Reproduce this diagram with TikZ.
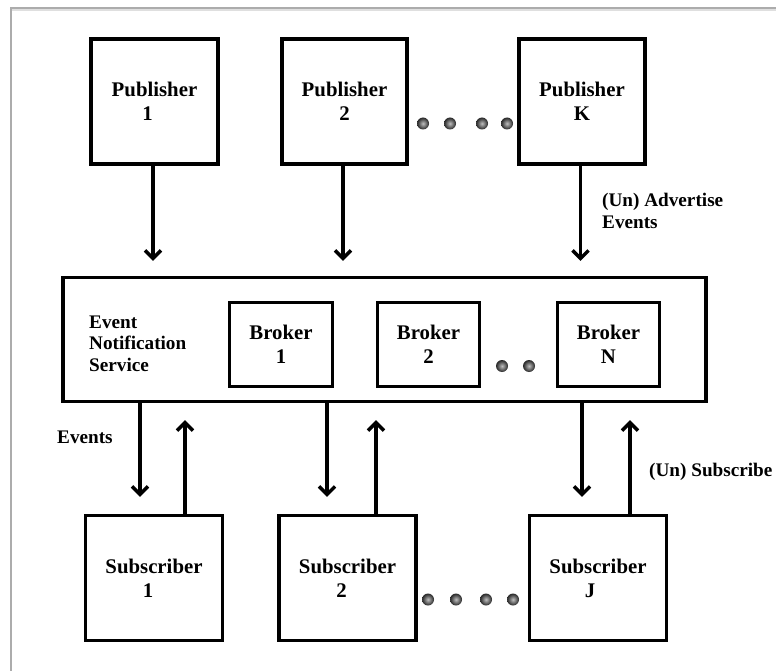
\documentclass[tikz,border=0pt]{standalone}
\usepackage{fontspec}
\setmainfont{Liberation Serif}
\usetikzlibrary{arrows.meta,calc}

\tikzset{
  box/.style={draw, line width=3.4pt, rectangle, align=center,
    inner sep=0pt, font=\fontsize{20.8}{24}\selectfont\bfseries},
  lbl/.style={align=left, inner sep=0pt, anchor=west,
    font=\fontsize{19.2}{22}\selectfont\bfseries},
  arr/.style={line width=3.2pt,
    -{Straight Barb[length=8pt,width=16pt,line width=3.4pt]}},
  dot/.style={inner color=gray!50, outer color=black!85},
  frame/.style={line width=1.3pt, draw=gray!65}
}

\begin{document}
\begin{tikzpicture}[x=1pt, y=-1pt]
\useasboundingbox (0,0) rectangle (776,671);

% page edge
\draw[line width=2pt, draw=gray!25] (12,10) -- (776,10);
\draw[frame] (11,671) -- (11,8) -- (776,8);

% publishers
\node[box, minimum width=127pt, minimum height=125pt] (p1) at (154.5,101.5) {Publisher\\1\hspace*{14pt}};
\node[box, minimum width=125pt, minimum height=125pt] (p2) at (344.5,101.5) {Publisher\\2};
\node[box, minimum width=126pt, minimum height=125pt] (pk) at (582,101.5) {Publisher\\K};

% event notification service and its brokers
\node[box, minimum width=643pt, minimum height=124pt] (ens) at (384.5,339.5) {};
\node[lbl, font=\fontsize{19.2}{21.5}\selectfont\bfseries] (enslbl) at (89,343.5) {Event\\Notification\\Service};
\node[box, minimum width=103pt, minimum height=84pt] (b1) at (281,344.5) {Broker\\1};
\node[box, minimum width=102pt, minimum height=84pt] (b2) at (428.5,344.5) {Broker\\2};
\node[box, minimum width=102pt, minimum height=84pt] (bn) at (608.5,344.5) {Broker\\N};

% subscribers
\node[box, minimum width=137pt, minimum height=125pt] (s1) at (154,578) {Subscriber\\1\hspace*{12pt}};
\node[box, minimum width=137pt, minimum height=125pt] (s2) at (347.5,578) {Subscriber\\2\hspace*{12pt}};
\node[box, minimum width=137pt, minimum height=125pt] (sj) at (598,578) {Subscriber\\J\hspace*{16pt}};

% advertise arrows
\foreach \p in {p1,p2,pk}{
  \coordinate (\p a) at ([xshift=-1.5pt]\p.south);
  \draw[arr, shorten >=15pt] (\p a) -- (\p a |- ens.north);
}

% event and subscription arrows
\coordinate (d1) at ([xshift=-14pt]s1.north);
\coordinate (u1) at ([xshift=31pt]s1.north);
\coordinate (d2) at ([xshift=-20.5pt]s2.north);
\coordinate (u2) at ([xshift=28.5pt]s2.north);
\coordinate (dj) at ([xshift=-16pt]sj.north);
\coordinate (uj) at ([xshift=32pt]sj.north);
\foreach \d/\u in {d1/u1,d2/u2,dj/uj}{
  \draw[arr, shorten >=17pt] (\d |- ens.south) -- (\d);
  \draw[arr, shorten >=17pt] (\u) -- (\u |- ens.south);
}

% labels
\node[lbl] (adv) at (602,210.5) {(Un) Advertise\\Events};
\node[lbl] (evt) at (57,437) {Events};
\node[lbl] (sub) at (649,472) {(Un) Subscribe};

% ellipsis dots
\foreach \x in {423,450,482,507}{ \shade[dot] (\x,123.5) circle (6pt); }
\foreach \x in {502,529}{ \shade[dot] (\x,366) circle (6pt); }
\foreach \x in {428,456,486,513}{ \shade[dot] (\x,599.5) circle (6pt); }
\end{tikzpicture}
\end{document}
